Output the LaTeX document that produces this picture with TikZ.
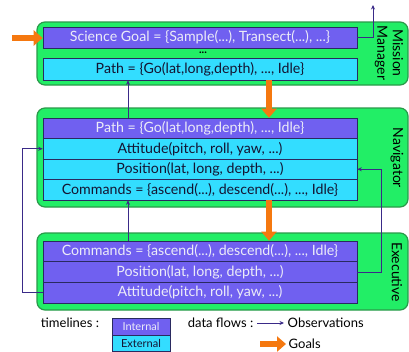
\documentclass[tikz,border=0pt]{standalone}
\usepackage{fontspec}
\setmainfont{Lato}
\usetikzlibrary{arrows.meta,positioning}
\definecolor{layergreen}{HTML}{22EE66}
\definecolor{layeredge}{HTML}{2A9A4A}
\definecolor{intpurple}{HTML}{7060F0}
\definecolor{extcyan}{HTML}{33DDFF}
\definecolor{baredge}{HTML}{2A2A60}
\definecolor{flowline}{HTML}{3A2A88}
\definecolor{goalorange}{HTML}{F5780F}
\definecolor{lighttext}{HTML}{ECECF8}
\definecolor{darktext}{HTML}{141432}
\tikzset{
  layer/.style={draw=layeredge, line width=1.2pt, fill=layergreen, rounded corners=8pt},
  bar/.style={draw=baredge, line width=0.6pt, minimum width=314pt, inner sep=0pt,
              font=\fontsize{14.2}{15}\selectfont},
  internal/.style={bar, fill=intpurple, text=lighttext},
  external/.style={bar, fill=extcyan, text=darktext},
  flow/.style={draw=flowline, line width=0.8pt, -{Stealth[length=4.5pt,width=4pt]}},
  goal/.style={draw=goalorange, line width=5.5pt, -{Triangle[length=9pt,width=15pt]}},
  layerlabel/.style={rotate=-90, font=\fontsize{14}{15}\selectfont, text=black},
  legendtext/.style={inner sep=0.5pt, font=\fontsize{13}{14}\selectfont, text=black},
}
\begin{document}
\begin{tikzpicture}[x=1pt,y=-1pt]
\useasboundingbox (0,0) rectangle (409,351);

% layer frames
\draw[layer] (37,22) rectangle (408,85);
\draw[layer] (37,108) rectangle (408,207);
\draw[layer] (37,233) rectangle (408,310);

% Mission Manager timelines
\node[internal, minimum height=21pt] (mgoal) at (200,37.5) {Science Goal = \{Sample(...), Transect(...), ...\}};
\node[inner sep=0pt, font=\fontsize{11}{12}\selectfont\bfseries] (mdots) at (203,53) {...};
\node[external, minimum height=22pt] (mpath) at (200,69) {Path = \{Go(lat,long,depth), ..., Idle\}};

% Navigator timelines
\node[internal, minimum height=20.5pt] (npath) at (200,128.25) {Path = \{Go(lat,long,depth), ..., Idle\}};
\node[external, minimum height=20.5pt] (natt) at (200,148.75) {Attitude(pitch, roll, yaw, ...)};
\node[external, minimum height=20.5pt] (npos) at (200,169.25) {Position(lat, long, depth, ...)};
\node[external, minimum height=20.5pt] (ncmd) at (200,189.75) {Commands = \{ascend(...), descend(...), ..., Idle\}};

% Executive timelines
\node[internal, minimum height=20.67pt] (ecmd) at (200,251.3) {Commands = \{ascend(...), descend(...), ..., Idle\}};
\node[internal, minimum height=20.67pt] (epos) at (200,272) {Position(lat, long, depth, ...)};
\node[internal, minimum height=20.67pt] (eatt) at (200,292.7) {Attitude(pitch, roll, yaw, ...)};

% layer names
\node[layerlabel] (lmission) at (398,53) {Mission};
\node[layerlabel] (lmanager) at (381,53) {Manager};
\node[layerlabel] (lnav) at (397,158) {Navigator};
\node[layerlabel] (lexec) at (397,272) {Executive};

% observations flowing upward
\coordinate (mout) at (373,5);
\draw[flow] (mgoal.east) -| (mout);
\draw[flow] (npath.north -| 128,0) -- (mpath.south -| 128,0);
\draw[flow] (ecmd.north -| 128,0) -- (ncmd.south -| 128,0);
\draw[flow] (eatt.west) -| (22,148.75) -- (natt.west);
\draw[flow] (epos.east) -| (381,169.25) -- (npos.east);

% goals flowing downward
\coordinate (gin) at (12,38);
\draw[goal] (gin) -- (mgoal.west |- gin);
\draw[goal] (mpath.south -| 269,0) -- (npath.north -| 269,0);
\draw[goal] (ncmd.south -| 269,0) -- (ecmd.north -| 269,0);

% legend
\node[legendtext] (ltl) at (70,323) {timelines :};
\node[internal, minimum width=58pt, minimum height=17pt, font=\fontsize{11}{12}\selectfont] (lint) at (141,326.5) {Internal};
\node[external, minimum width=58pt, minimum height=16pt, font=\fontsize{11}{12}\selectfont] (lext) at (141,343) {External};
\node[legendtext, anchor=east] (ldf) at (254,323) {data flows :};
\node[legendtext, anchor=west] (lobs) at (287,323) {Observations};
\node[legendtext, anchor=west] (lgoals) at (288,344) {Goals};
\draw[flow] (ldf.east) ++(3,0) -- ([xshift=-3pt]lobs.west);
\draw[goal] (260,344) -- ([xshift=-2pt]lgoals.west);
\end{tikzpicture}
\end{document}
